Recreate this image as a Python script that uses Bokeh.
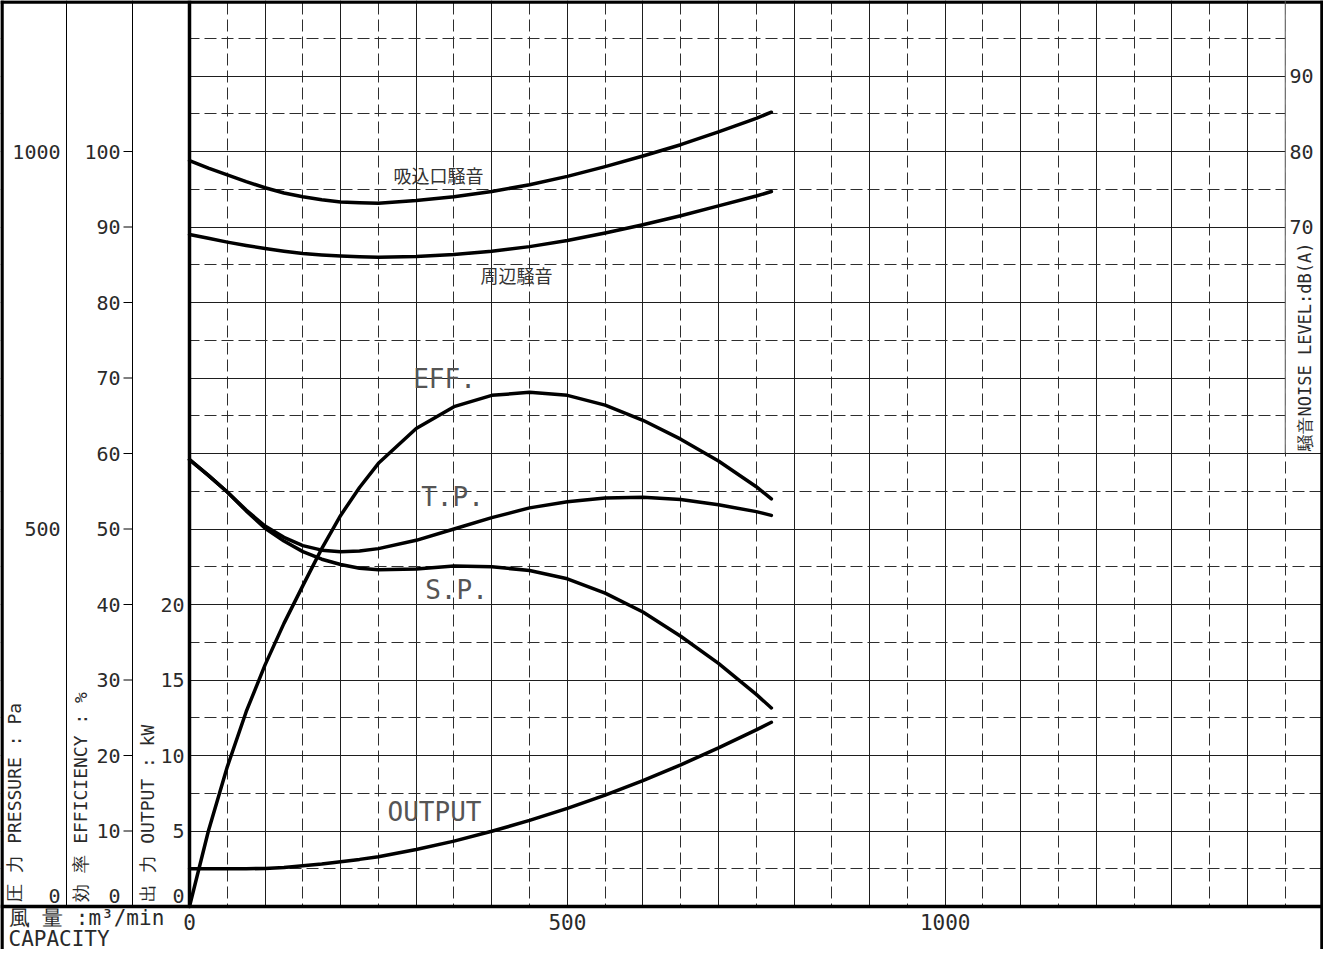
import math
from bokeh.plotting import figure
from bokeh.models import Range1d, FixedTicker, Grid, ColumnDataSource
from bokeh.core.properties import value
from bokeh.embed import file_html
from bokeh.resources import INLINE

# ---------------- data ----------------
capacity = [0, 25, 50, 75, 100, 125, 150, 175, 200, 225, 250,
            300, 350, 400, 450, 500, 550, 600, 650, 700, 750, 770]          # m3/min
total_pressure = [592, 571, 549, 525, 504, 489, 478, 472, 470, 471, 474,
                  485, 500, 515, 528, 536, 541, 542, 539, 532, 523, 518]    # Pa
static_pressure = [592, 571, 549, 524, 501, 484, 470, 460, 453, 448, 446,
                   447, 451, 450, 445, 434, 415, 390, 358, 322, 281, 263]   # Pa
efficiency = [0, 10.0, 18.5, 25.8, 32.0, 37.5, 42.5, 47.4, 51.8, 55.5, 58.7,
              63.3, 66.2, 67.7, 68.1, 67.7, 66.4, 64.4, 61.9, 59.0, 55.6, 54.0]  # %
output_kw = [2.5, 2.5, 2.5, 2.5, 2.52, 2.58, 2.7, 2.82, 2.97, 3.12, 3.3,
             3.78, 4.33, 4.98, 5.7, 6.5, 7.38, 8.34, 9.38, 10.5, 11.7, 12.2]  # kW
noise_inlet = [78.8, 77.8, 76.9, 76.0, 75.2, 74.5, 74.0, 73.6, 73.3, 73.2, 73.15,
               73.5, 74.0, 74.7, 75.6, 76.7, 78.0, 79.4, 80.9, 82.6, 84.4, 85.2]  # dB(A)
noise_around = [69.0, 68.5, 68.0, 67.55, 67.15, 66.8, 66.5, 66.3, 66.15, 66.05, 66.0,
                66.1, 66.35, 66.8, 67.4, 68.2, 69.2, 70.3, 71.5, 72.8, 74.1, 74.7]  # dB(A)

pressure_ticks = [0, 500, 1000]
efficiency_ticks = [0, 10, 20, 30, 40, 50, 60, 70, 80, 90, 100]
output_ticks = [0, 5, 10, 15, 20]
noise_ticks = [70, 80, 90]
capacity_ticks = [0, 500, 1000]

x_major_grid = [100, 200, 300, 400, 500, 600, 700, 800, 900, 1000, 1100, 1200, 1300, 1400]
x_minor_grid = [50, 150, 250, 350, 450, 550, 650, 750, 850, 950, 1050, 1150, 1250, 1350, 1450]
y_major_grid = [10, 20, 30, 40, 50, 60, 70, 80, 90, 100, 110]
y_minor_grid = [5, 15, 25, 35, 45, 55, 65, 75, 85, 95, 105, 115]

curve_labels = ["吸込口騒音", "周辺騒音", "EFF.", "T.P.", "S.P.", "OUTPUT"]

pressure_title = "圧 力 PRESSURE : Pa"
efficiency_title = "効 率 EFFICIENCY : %"
output_title = "出 力 OUTPUT : kW"
noise_title = "騒音NOISE LEVEL:dB(A)"
capacity_title = "風 量 :m³/min"
capacity_title2 = "CAPACITY"

# ---------------- layout helpers (page pixel -> data) ----------------
W, H = 1323, 949
PAGE_X, PAGE_Y = 8, 8
X_ORIGIN, X_SCALE = 197.0, 0.7557     # px of Q=0, px per m3/min
Y_ORIGIN, Y_SCALE = 914.0, 7.55       # px of eff=0, px per %


def qx(px):
    return (px - X_ORIGIN) / X_SCALE


def ey(py):
    return (Y_ORIGIN - py) / Y_SCALE


X0, X1 = qx(PAGE_X), qx(PAGE_X + W)
Y0, Y1 = ey(PAGE_Y + H), ey(PAGE_Y)

MONO = value("DejaVu Sans Mono")
CJK = value("Noto Sans CJK JP")
TXT = "#2a2a2a"

p = figure(width=W, height=H, x_range=Range1d(X0, X1), y_range=Range1d(Y0, Y1),
           output_backend="svg", toolbar_location=None, min_border=0,
           x_axis_location=None, y_axis_location=None)
p.outline_line_color = None
p.background_fill_color = "white"
p.border_fill_color = "white"

# secondary scales: pressure (Pa), output (kW), noise (dB)
p.extra_y_ranges = {
    "pa": Range1d(Y0 * 10, Y1 * 10),
    "kw": Range1d(Y0 / 2, Y1 / 2),
    "db": Range1d(Y0 - 20, Y1 - 20),
}

# ---------------- grid ----------------
xg = Grid(dimension=0, ticker=FixedTicker(ticks=x_major_grid, minor_ticks=x_minor_grid),
          grid_line_color="#1e1e1e", grid_line_width=1,
          minor_grid_line_color="#2e2e2e", minor_grid_line_width=1,
          minor_grid_line_dash="12 5")
yg = Grid(dimension=1, ticker=FixedTicker(ticks=y_major_grid, minor_ticks=y_minor_grid),
          grid_line_color="#1e1e1e", grid_line_width=1,
          minor_grid_line_color="#2e2e2e", minor_grid_line_width=1,
          minor_grid_line_dash="12 5")
p.add_layout(xg)
p.add_layout(yg)

# white panels: left scale columns, bottom row, noise column
p.quad(left=[X0, X0, 1450], right=[0, X1, X1], bottom=[Y0, Y0, 60.15], top=[Y1, 0, Y1],
       fill_color="white", line_color=None)

# ---------------- frame lines ----------------
thick_x0 = [X0, qx(9.5), qx(1329.5), 0, X0]
thick_x1 = [X1, qx(9.5), qx(1329.5), 0, X1]
thick_y0 = [ey(9.5), Y0, Y0, 0, 0]
thick_y1 = [ey(9.5), Y1, Y1, Y1, 0]
p.segment(x0=thick_x0, y0=thick_y0, x1=thick_x1, y1=thick_y1, line_color="black", line_width=3.5)
p.segment(x0=[qx(74), qx(140)], y0=[0, 0], x1=[qx(74), qx(140)], y1=[Y1, Y1],
          line_color="black", line_width=1)
p.segment(x0=[1450], y0=[60], x1=[1450], y1=[Y1], line_color="#555555", line_width=1)

# efficiency tick marks
p.segment(x0=qx(131), x1=qx(140), y0=efficiency_ticks, y1=efficiency_ticks,
          line_color="black", line_width=1)

# ---------------- curves ----------------
style = dict(line_color="black", line_width=3.5, line_cap="round", line_join="round")
p.line(capacity, noise_inlet, y_range_name="db", **style)
p.line(capacity, noise_around, y_range_name="db", **style)
p.line(capacity, efficiency, **style)
p.line(capacity, total_pressure, y_range_name="pa", **style)
p.line(capacity, static_pressure, y_range_name="pa", **style)
p.line(capacity, output_kw, y_range_name="kw", **style)

# ---------------- tick labels ----------------
def zero_lift(ticks):
    return [-11 if t == 0 else 0 for t in ticks]


src_pa = ColumnDataSource(dict(y=pressure_ticks, t=[str(v) for v in pressure_ticks],
                               dy=zero_lift(pressure_ticks)))
p.text(x=qx(68), y="y", text="t", y_offset="dy", source=src_pa, y_range_name="pa",
       text_font=MONO, text_font_size="20px", text_color=TXT,
       text_align="right", text_baseline="middle")

src_ef = ColumnDataSource(dict(y=efficiency_ticks, t=[str(v) for v in efficiency_ticks],
                               dy=zero_lift(efficiency_ticks)))
p.text(x=qx(128), y="y", text="t", y_offset="dy", source=src_ef,
       text_font=MONO, text_font_size="20px", text_color=TXT,
       text_align="right", text_baseline="middle")

src_kw = ColumnDataSource(dict(y=output_ticks, t=[str(v) for v in output_ticks],
                               dy=zero_lift(output_ticks)))
p.text(x=qx(192), y="y", text="t", y_offset="dy", source=src_kw, y_range_name="kw",
       text_font=MONO, text_font_size="20px", text_color=TXT,
       text_align="right", text_baseline="middle")

p.text(x=qx(1297), y=noise_ticks, text=[str(v) for v in noise_ticks], y_range_name="db",
       text_font=MONO, text_font_size="20px", text_color=TXT,
       text_align="left", text_baseline="middle")

p.text(x=capacity_ticks, y=ey(929), text=[str(v) for v in capacity_ticks],
       text_font=MONO, text_font_size="21px", text_color=TXT,
       text_align="center", text_baseline="middle")

# ---------------- axis titles ----------------
for title, px in [(pressure_title, 22), (efficiency_title, 88), (output_title, 155)]:
    p.text(x=[qx(px)], y=[ey(909)], text=[title], angle=math.pi / 2,
           text_font=MONO, text_font_size="18px", text_color=TXT,
           text_align="left", text_baseline="middle")

p.text(x=[qx(1312)], y=[ey(458)], text=[noise_title], angle=math.pi / 2,
       text_font=MONO, text_font_size="17px", text_color=TXT,
       text_align="left", text_baseline="middle")

p.text(x=[qx(16), qx(16)], y=[ey(925), ey(946)], text=[capacity_title, capacity_title2],
       text_font=MONO, text_font_size="21px", text_color=TXT,
       text_align="left", text_baseline="middle")

# ---------------- curve labels ----------------
p.text(x=[qx(446), qx(524)], y=[ey(182), ey(282)], text=curve_labels[:2],
       text_font=CJK, text_font_size="18px", text_color="#333333",
       text_align="center", text_baseline="middle")
p.text(x=[qx(452), qx(460), qx(464), qx(442)], y=[ey(386), ey(504), ey(597), ey(819)],
       text=curve_labels[2:], text_font=MONO, text_font_size="26px", text_color="#555555",
       text_align="center", text_baseline="middle")

open("out.html", "w").write(file_html(p, INLINE))
